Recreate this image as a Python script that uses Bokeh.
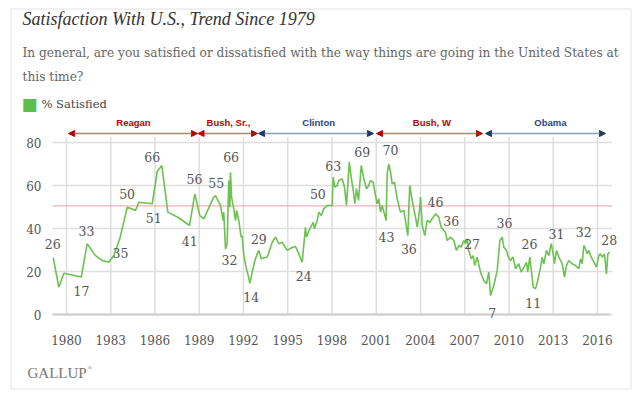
from bokeh.plotting import figure
from bokeh.models import (Range1d, FixedTicker, Label, LabelSet, ColumnDataSource,
                          Arrow, NormalHead, BoxAnnotation)
from bokeh.core.properties import value
from bokeh.embed import file_html
from bokeh.resources import INLINE

# ---------------- data ----------------
years = [1979.10, 1979.48, 1979.82, 1981.00, 1981.40, 1981.97, 1982.42, 1982.87, 1983.21, 1983.61,
         1984.12, 1984.45, 1984.68, 1984.90, 1985.81, 1986.15, 1986.46, 1986.87, 1987.61, 1988.34,
         1988.70, 1989.04, 1989.31, 1989.97, 1990.10, 1990.44, 1990.62, 1990.66, 1990.78, 1990.89,
         1991.00, 1991.07, 1991.12, 1991.19, 1991.34, 1991.46, 1991.53, 1991.68, 1991.84, 1991.91,
         1992.02, 1992.20, 1992.32, 1992.43, 1992.59, 1992.77, 1992.93, 1993.04, 1993.20, 1993.61,
         1993.95, 1994.17, 1994.39, 1994.62, 1994.96, 1995.32, 1995.53, 1995.75, 1995.98, 1996.20,
         1996.27, 1996.43, 1996.73, 1996.81, 1997.00, 1997.11, 1997.27, 1997.44, 1997.67, 1998.01,
         1998.08, 1998.19, 1998.35, 1998.46, 1998.69, 1998.85, 1998.98, 1999.17, 1999.30, 1999.44,
         1999.55, 1999.66, 1999.80, 1999.98, 2000.16, 2000.34, 2000.49, 2000.61, 2000.79, 2000.95,
         2001.06, 2001.17, 2001.29, 2001.40, 2001.67, 2001.74, 2001.85, 2001.97, 2002.08, 2002.24,
         2002.42, 2002.64, 2002.87, 2003.14, 2003.27, 2003.44, 2003.66, 2003.78, 2003.93, 2004.00,
         2004.12, 2004.29, 2004.45, 2004.63, 2004.79, 2005.02, 2005.24, 2005.40, 2005.69, 2005.81,
         2006.03, 2006.26, 2006.44, 2006.60, 2006.76, 2006.94, 2007.05, 2007.17, 2007.27, 2007.44,
         2007.57, 2007.68, 2007.84, 2008.07, 2008.29, 2008.47, 2008.63, 2008.75, 2008.86, 2008.97,
         2009.20, 2009.38, 2009.54, 2009.65, 2009.83, 2009.92, 2010.10, 2010.28, 2010.44, 2010.66,
         2010.83, 2011.19, 2011.27, 2011.41, 2011.64, 2011.80, 2011.95, 2012.14, 2012.25, 2012.36,
         2012.54, 2012.70, 2012.86, 2013.00, 2013.08, 2013.22, 2013.38, 2013.61, 2013.76, 2013.90,
         2014.05, 2014.28, 2014.51, 2014.73, 2014.85, 2014.96, 2015.07, 2015.19, 2015.30, 2015.41,
         2015.53, 2015.64, 2015.93, 2016.09, 2016.20, 2016.32, 2016.47, 2016.61, 2016.70, 2016.83]
satisfied = [26.4, 12.7, 19.2, 17.4, 32.9, 27.4, 25.1, 24.3, 27.4, 35.2,
             49.9, 49.1, 48.4, 52.2, 51.5, 66.5, 69.3, 47.6, 45.0, 41.4,
             56.1, 46.0, 44.5, 54.5, 55.3, 50.7, 43.7, 47.6, 30.5, 32.9,
             62.3, 49.9, 66.2, 54.6, 49.1, 43.7, 48.4, 43.7, 36.0, 36.7,
             27.4, 21.3, 18.1, 14.5, 19.7, 25.1, 28.2, 29.8, 25.9, 26.7,
             33.6, 36.0, 32.9, 33.6, 29.8, 31.3, 31.6, 28.2, 24.3, 40.6,
             36.0, 39.0, 42.9, 39.9, 43.7, 47.6, 46.0, 49.1, 50.7, 50.7,
             63.9, 59.2, 60.0, 62.3, 63.1, 59.2, 50.7, 70.9, 63.9, 57.7,
             51.5, 58.5, 53.0, 69.3, 63.1, 58.5, 60.0, 62.3, 61.5, 55.3,
             51.5, 53.8, 47.6, 50.7, 43.7, 65.4, 70.0, 66.2, 60.8, 61.5,
             53.8, 47.6, 48.4, 36.7, 60.0, 53.0, 45.3, 40.6, 48.4, 54.6,
             41.4, 36.7, 43.7, 42.9, 44.5, 46.8, 45.3, 40.6, 38.3, 34.4,
             36.0, 34.4, 29.8, 32.1, 31.3, 34.4, 32.9, 35.2, 29.8, 25.9,
             27.4, 22.8, 26.7, 19.7, 15.8, 14.3, 19.7, 8.8, 11.2, 13.5,
             20.5, 34.4, 36.0, 31.3, 29.8, 27.4, 25.1, 26.7, 21.3, 23.6,
             19.7, 24.3, 19.7, 26.7, 12.7, 11.9, 15.8, 22.0, 26.7, 23.6,
             29.8, 27.4, 32.9, 28.2, 23.6, 29.8, 26.7, 23.6, 17.4, 22.8,
             25.1, 23.6, 22.8, 21.3, 25.9, 23.6, 32.1, 30.5, 28.2, 29.8,
             27.4, 25.9, 22.0, 27.4, 28.2, 26.7, 28.2, 18.9, 28.2, 29.0]

x_ticks = [1980, 1983, 1986, 1989, 1992, 1995, 1998, 2001, 2004, 2007, 2010, 2013, 2016]
y_ticks = [0, 20, 40, 60, 80]
reference_level = 50.5

label_text = ["26", "17", "33", "35", "50", "51", "66", "41", "56", "55", "66", "32", "29", "14",
              "24", "50", "63", "69", "70", "43", "36", "46", "36", "27", "7", "36", "26", "11",
              "31", "32", "28"]
label_year = [1979.07, 1981.02, 1981.36, 1983.66, 1984.11, 1985.92, 1985.81, 1988.36, 1988.68,
              1990.15, 1991.16, 1991.05, 1993.04, 1992.52, 1996.09, 1997.04, 1998.08, 2000.05,
              2001.97, 2001.69, 2003.21, 2005.02, 2006.08, 2007.50, 2008.86, 2009.69, 2011.39,
              2011.64, 2013.22, 2015.07, 2016.79]
label_level = [32.6, 10.7, 39.0, 28.5, 56.1, 45.0, 73.2, 34.4, 62.8, 61.1, 73.2, 25.4, 35.2, 8.0,
               17.7, 56.1, 69.3, 75.5, 76.3, 36.0, 30.5, 52.2, 43.3, 32.9, 0.6, 42.5, 32.6, 5.3,
               37.5, 38.3, 34.7]

presidents = ["Reagan", "Bush, Sr.,", "Clinton", "Bush, W", "Obama"]
term_start = [1980.14, 1988.92, 1993.02, 2001.02, 2008.41]
term_end = [1988.88, 1992.95, 2000.81, 2008.20, 2016.54]
name_center = [1984.54, 1990.98, 1997.10, 2004.77, 2012.81]
party = ["R", "R", "D", "R", "D"]

# ---------------- layout helpers (canvas pixels -> data) ----------------
W, H = 640, 399
PX_YEAR = 14.75      # pixels per year
PX_UNIT = 2.15       # pixels per percentage point
X_1980 = 66          # canvas x of 1980
Y_ZERO = 314         # canvas y of 0 %


def xd(px):
    return 1980 + (px - X_1980) / PX_YEAR


def yd(py):
    return (Y_ZERO - py) / PX_UNIT


AX_L, AX_R = 52, 612   # horizontal extent of the plotting area (canvas px)
GRID_TOP = 137

p = figure(width=W, height=H, x_range=Range1d(xd(0), xd(W)), y_range=Range1d(yd(H), yd(0)),
           output_backend="svg", toolbar_location=None,
           min_border_left=0, min_border_right=0, min_border_top=0, min_border_bottom=0)
p.title.visible = False
p.outline_line_color = None
p.background_fill_color = "white"
p.border_fill_color = "white"
p.xgrid.visible = False
p.ygrid.visible = False

serif = "DejaVu Serif"
grid_col = "#dedede"

# grid lines
p.segment(x0=x_ticks, y0=[0] * len(x_ticks), x1=x_ticks, y1=[yd(GRID_TOP)] * len(x_ticks),
          line_color=grid_col, line_width=1.5)
p.segment(x0=[xd(AX_L)] * len(y_ticks), y0=y_ticks, x1=[xd(AX_R)] * len(y_ticks), y1=y_ticks,
          line_color=grid_col, line_width=1.5)

# axes fixed inside the canvas
for ax, ticks in ((p.yaxis[0], y_ticks), (p.xaxis[0], x_ticks)):
    ax.ticker = FixedTicker(ticks=ticks)
    ax.major_tick_line_color = None
    ax.minor_tick_line_color = None
    ax.major_label_text_font = serif
    ax.major_label_text_font_size = "12px"
    ax.major_label_text_color = "#555555"
p.yaxis.fixed_location = xd(AX_L)
p.yaxis.axis_line_color = None
p.yaxis.major_label_standoff = 5
p.yaxis.bounds = (0, 80)
p.xaxis.fixed_location = 0
p.xaxis.bounds = (xd(AX_L), xd(609))
p.xaxis.axis_line_color = "#cccccc"
p.xaxis.axis_line_width = 2
p.xaxis.major_label_standoff = 14

# reference line
p.segment(x0=[xd(AX_L)], y0=[reference_level], x1=[xd(AX_R)], y1=[reference_level],
          line_color="#e6a3a3", line_width=1)

p.line(years, satisfied, line_color="#6cc24f", line_width=1.6)

src = ColumnDataSource(dict(x=label_year, y=label_level, t=label_text))
p.add_layout(LabelSet(x="x", y="y", text="t", source=src, text_align="center",
                      text_baseline="middle", text_font=value(serif),
                      text_font_size=value("12.5px"), text_color="#555555"))

# presidential terms
for name, s, e, c, pt in zip(presidents, term_start, term_end, name_center, party):
    line_c = "#e46c6c" if pt == "R" else "#8a9bb5"
    head_c = "#c00000" if pt == "R" else "#1f3864"
    text_c = "#c00000" if pt == "R" else "#1f497d"
    p.add_layout(Arrow(x_start=s, y_start=yd(133), x_end=e, y_end=yd(133),
                       line_color=line_c, line_width=1.3,
                       start=NormalHead(size=6, fill_color=head_c, line_color=head_c),
                       end=NormalHead(size=6, fill_color=head_c, line_color=head_c)))
    p.add_layout(Label(x=c, y=yd(122), text=name, text_align="center",
                       text_baseline="middle", text_font="Liberation Sans",
                       text_font_style="bold", text_font_size="9.5px", text_color=text_c))

# titles
p.add_layout(Label(x=xd(22), y=yd(18), text="Satisfaction With U.S., Trend Since 1979",
                   text_font="Liberation Serif", text_font_style="italic",
                   text_font_size="18px", text_color="#333333", text_baseline="middle"))
p.add_layout(Label(x=xd(22), y=yd(52),
                   text="In general, are you satisfied or dissatisfied with the way things are going in the United States at",
                   text_font=serif, text_font_size="12.2px", text_color="#666666",
                   text_baseline="middle"))
p.add_layout(Label(x=xd(22), y=yd(76), text="this time?",
                   text_font=serif, text_font_size="12.2px", text_color="#666666",
                   text_baseline="middle"))
# legend
p.add_layout(Label(x=xd(21), y=yd(103), text="\u25A0", text_font="DejaVu Sans",
                   text_font_size="17px", text_color="#5cbf4a", text_baseline="middle"))
p.add_layout(Label(x=xd(41), y=yd(103), text="% Satisfied", text_font=serif,
                   text_font_size="11.5px", text_color="#444444", text_baseline="middle"))
# logo
p.add_layout(Label(x=xd(27), y=yd(372), text="GALLUP", text_font="Liberation Serif",
                   text_font_size="15px", text_color="#777777", text_baseline="middle"))
p.add_layout(Label(x=xd(87), y=yd(367), text="\u00AE", text_font="Liberation Serif",
                   text_font_size="6px", text_color="#777777", text_baseline="middle"))

# frame border around everything
p.add_layout(BoxAnnotation(left=xd(10.5), right=xd(630.5), top=yd(8.5), bottom=yd(388.5),
                           fill_alpha=0, line_color="#c4c4c4", line_width=1.5))

open("out.html", "w").write(file_html(p, INLINE))
